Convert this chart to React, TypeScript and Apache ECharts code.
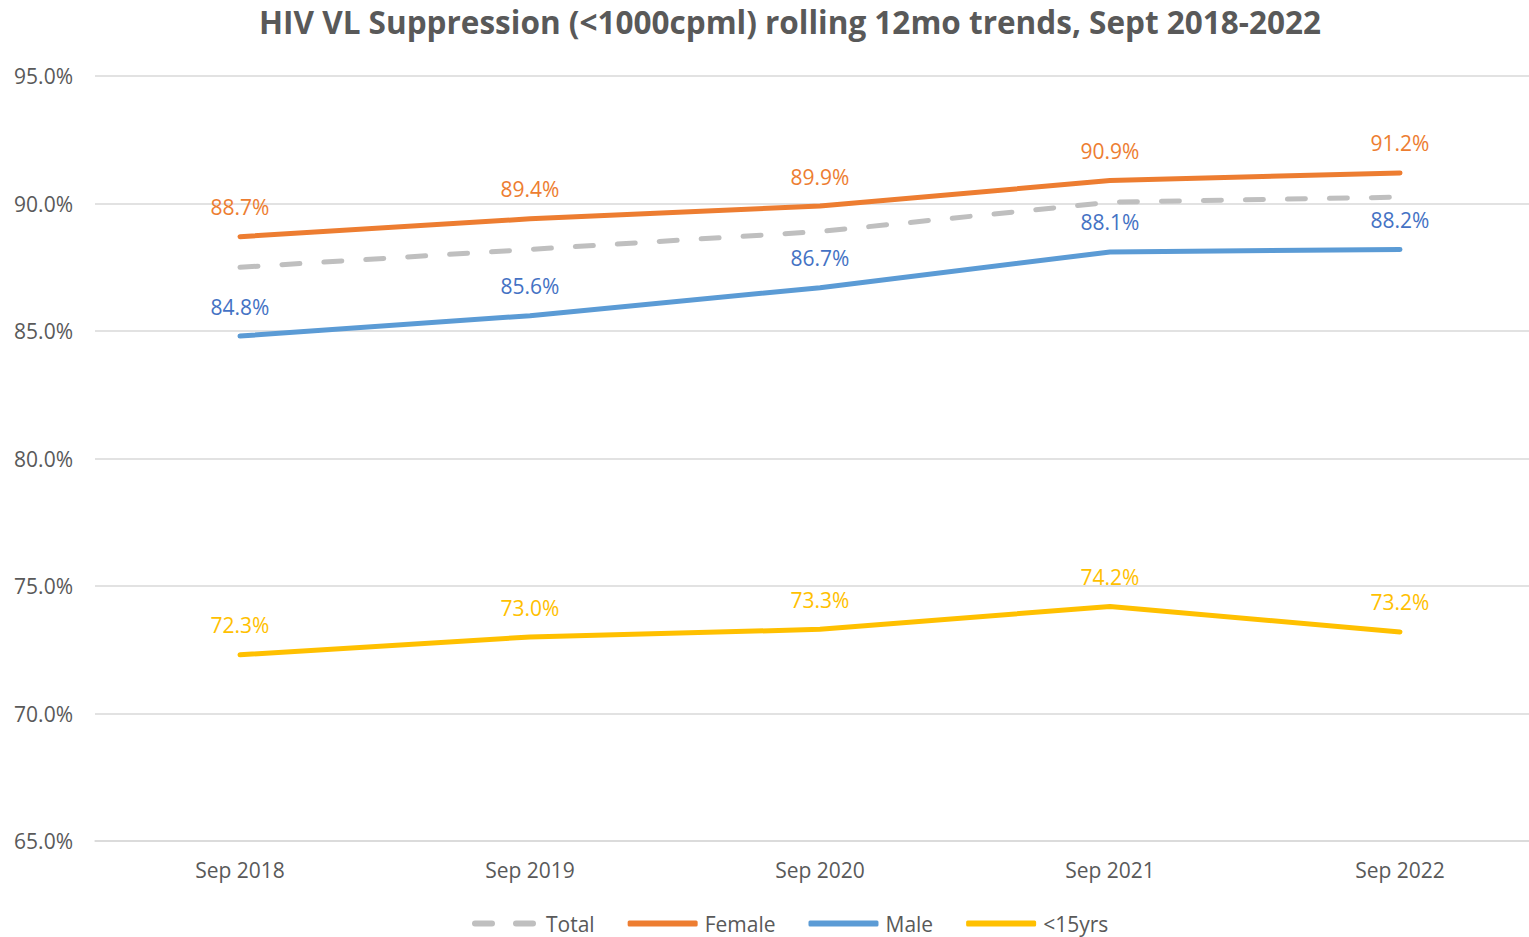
import React, { useEffect, useRef } from "react";
import * as echarts from "echarts";

const categories = ["Sep 2018", "Sep 2019", "Sep 2020", "Sep 2021", "Sep 2022"];
const totalValues = [87.5, 88.2, 88.9, 90.05, 90.25];
const femaleValues = [88.7, 89.4, 89.9, 90.9, 91.2];
const maleValues = [84.8, 85.6, 86.7, 88.1, 88.2];
const under15Values = [72.3, 73.0, 73.3, 74.2, 73.2];

const FONT = "'Open Sans', 'Noto Sans', sans-serif";

export default function App() {
  const ref = useRef<HTMLDivElement>(null);
  useEffect(() => {
    document.body.style.margin = "0";
    document.body.style.overflow = "hidden";
    const chart = echarts.init(ref.current!, null, { renderer: "svg" });
    const label = (color: string) => ({
      show: true,
      position: "top",
      distance: 19,
      color,
      fontSize: 21,
      fontFamily: FONT,
      formatter: (p: any) => p.value.toFixed(1) + "%",
    });
    const lineSeries = (name: string, data: number[], color: string, labelColor: string) => ({
      name,
      type: "line",
      data,
      symbol: "circle",
      symbolSize: 0,
      showSymbol: true,
      itemStyle: { color },
      lineStyle: { color, width: 5, cap: "round" },
      label: label(labelColor),
    });
    chart.setOption({
      animation: false,
      backgroundColor: "#fff",
      title: {
        text: "HIV VL Suppression (<1000cpml) rolling 12mo trends, Sept 2018-2022",
        left: 785,
        textAlign: "center",
        top: 0,
        textStyle: { color: "#595959", fontSize: 31.5, fontWeight: "bold", fontFamily: FONT },
      },
      grid: { left: 95, right: 0, top: 76, bottom: 96 },
      legend: {
        top: 913,
        left: 472,
        padding: 0,
        itemWidth: 70,
        itemHeight: 6,
        itemGap: 33,
        textStyle: { color: "#595959", fontSize: 21, fontFamily: FONT, padding: [0, 0, 0, 2] },
        data: [
          { name: "Total", icon: "path://M3,0h17a3,3 0 0 1 0,6h-17a3,3 0 0 1 0,-6z M44,0h17a3,3 0 0 1 0,6h-17a3,3 0 0 1 0,-6z" },
          { name: "Female", icon: "roundRect" },
          { name: "Male", icon: "roundRect" },
          { name: "<15yrs", icon: "roundRect" },
        ],
      },
      xAxis: {
        type: "category",
        data: categories,
        boundaryGap: true,
        axisLine: { lineStyle: { color: "#D9D9D9", width: 1.5 } },
        axisTick: { show: false },
        axisLabel: { color: "#595959", fontSize: 21, fontFamily: FONT, margin: 18 },
      },
      yAxis: {
        type: "value",
        min: 65,
        max: 95,
        interval: 5,
        axisLine: { show: false },
        axisTick: { show: false },
        splitLine: { lineStyle: { color: "#D9D9D9", width: 1.5 } },
        axisLabel: {
          color: "#595959",
          fontSize: 21,
          fontFamily: FONT,
          margin: 22,
          formatter: (v: number) => v.toFixed(1) + "%",
        },
      },
      series: [
        {
          name: "Total",
          type: "line",
          data: totalValues,
          symbol: "none",
          itemStyle: { color: "#BFBFBF" },
          lineStyle: { color: "#BFBFBF", width: 5, type: [18, 24], cap: "round" },
        },
        lineSeries("Female", femaleValues, "#ED7D31", "#ED7D31"),
        lineSeries("Male", maleValues, "#5B9BD5", "#4472C4"),
        lineSeries("<15yrs", under15Values, "#FFC000", "#FFC000"),
      ],
    });
    return () => chart.dispose();
  }, []);
  return <div ref={ref} style={{ width: 1545, height: 937 }} />;
}
